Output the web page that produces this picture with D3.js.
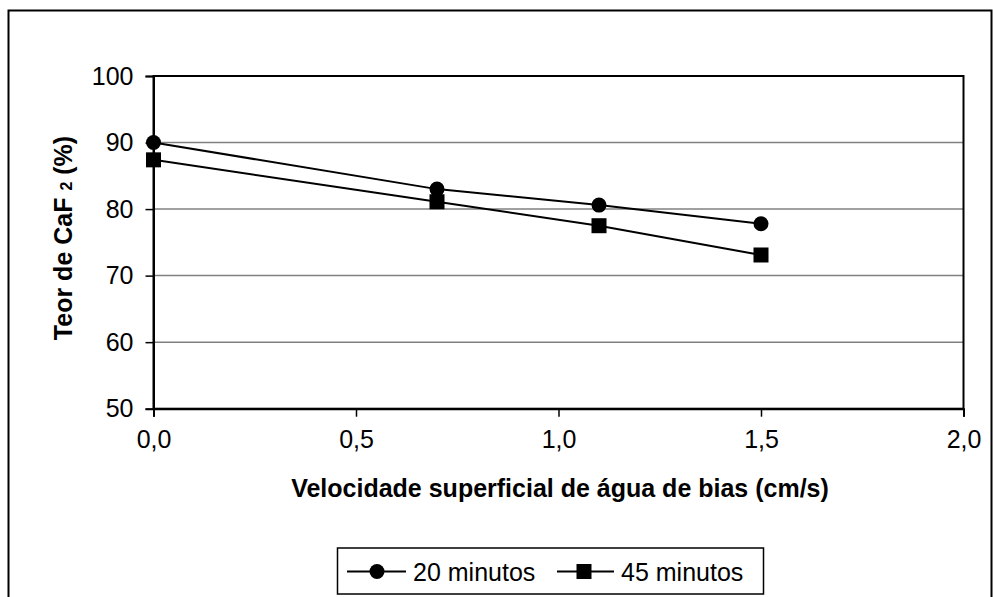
<!DOCTYPE html>
<html>
<head>
<meta charset="utf-8">
<script src="https://cdn.jsdelivr.net/npm/d3@7"></script>
<style>
  html, body { margin: 0; padding: 0; background: #fff; }
  svg { display: block; font-family: "Liberation Sans", Arial, sans-serif; }
</style>
</head>
<body>
<svg id="chart" width="993" height="597"></svg>
<script>
const xValues = [0.0, 0.7, 1.1, 1.5];
const series20 = [90.0, 83.0, 80.6, 77.8];
const series45 = [87.4, 81.1, 77.5, 73.1];
const seriesNames = ["20 minutos", "45 minutos"];
const xTicks = [0, 0.5, 1.0, 1.5, 2.0];
const yTicks = [50, 60, 70, 80, 90, 100];
const xTitle = "Velocidade superficial de água de bias (cm/s)";

const svg = d3.select("#chart");
const plot = { left: 153.5, right: 963.5, top: 76, bottom: 408.7 };

// outer frame
svg.append("rect")
  .attr("x", 8.5).attr("y", 10.5)
  .attr("width", 983).attr("height", 600)
  .attr("fill", "none").attr("stroke", "#000").attr("stroke-width", 2);

const x = d3.scaleLinear().domain([0, 2]).range([plot.left, plot.right]);
const y = d3.scaleLinear().domain([50, 100]).range([plot.bottom, plot.top]);

// gridlines
svg.append("g").selectAll("line")
  .data(yTicks.filter(d => d > 50 && d < 100))
  .join("line")
  .attr("x1", plot.left).attr("x2", plot.right)
  .attr("y1", d => y(d)).attr("y2", d => y(d))
  .attr("stroke", "#808080").attr("stroke-width", 1.5);

// plot border
svg.append("rect")
  .attr("x", plot.left).attr("y", plot.top)
  .attr("width", plot.right - plot.left).attr("height", plot.bottom - plot.top)
  .attr("fill", "none").attr("stroke", "#000").attr("stroke-width", 2);

// y axis
const yAxis = d3.axisLeft(y).tickValues(yTicks).tickSize(8).tickPadding(12)
  .tickFormat(d3.format("d"));
const gy = svg.append("g").attr("transform", `translate(${plot.left},0)`).call(yAxis);
gy.select(".domain").attr("stroke", "#000").attr("stroke-width", 2);
gy.selectAll(".tick line").attr("stroke", "#000").attr("stroke-width", 1.5);
gy.selectAll(".tick text").attr("font-size", 25).attr("fill", "#000")
  .attr("font-family", "Liberation Sans, Arial, sans-serif");

// x axis
const xAxis = d3.axisBottom(x).tickValues(xTicks).tickSize(8).tickPadding(14)
  .tickFormat(d => d3.format(".1f")(d).replace(".", ","));
const gx = svg.append("g").attr("transform", `translate(0,${plot.bottom})`).call(xAxis);
gx.select(".domain").attr("stroke", "#000").attr("stroke-width", 2);
gx.selectAll(".tick line").attr("stroke", "#000").attr("stroke-width", 1.5);
gx.selectAll(".tick text").attr("font-size", 25).attr("fill", "#000")
  .attr("font-family", "Liberation Sans, Arial, sans-serif");

// lines
const line = d3.line().x((d, i) => x(xValues[i])).y(d => y(d));
[series20, series45].forEach(s => {
  svg.append("path").datum(s).attr("d", line)
    .attr("fill", "none").attr("stroke", "#000").attr("stroke-width", 2);
});

// markers
svg.append("g").selectAll("circle").data(series20).join("circle")
  .attr("cx", (d, i) => x(xValues[i])).attr("cy", d => y(d))
  .attr("r", 7.5).attr("fill", "#000");
svg.append("g").selectAll("rect").data(series45).join("rect")
  .attr("x", (d, i) => x(xValues[i]) - 7.5).attr("y", d => y(d) - 7.5)
  .attr("width", 15).attr("height", 15).attr("fill", "#000");

// axis titles
svg.append("text")
  .attr("x", 560).attr("y", 497)
  .attr("text-anchor", "middle").attr("font-size", 25).attr("font-weight", "bold")
  .text(xTitle);

const yt = svg.append("text")
  .attr("transform", `translate(72,238) rotate(-90)`)
  .attr("text-anchor", "middle").attr("font-size", 25).attr("font-weight", "bold");
yt.append("tspan").text("Teor de CaF ");
yt.append("tspan").attr("font-size", 16).text("2");
yt.append("tspan").text(" (%)");

// legend
const lg = svg.append("g");
lg.append("rect").attr("x", 337.5).attr("y", 548).attr("width", 426).attr("height", 46)
  .attr("fill", "#fff").attr("stroke", "#000").attr("stroke-width", 1.5);
const ly = 571.5;
const entries = [
  { name: seriesNames[0], x1: 347, x2: 406, mx: 377, shape: "circle", tx: 413 },
  { name: seriesNames[1], x1: 557, x2: 614, mx: 584, shape: "square", tx: 621 }
];
entries.forEach(e => {
  lg.append("line").attr("x1", e.x1).attr("x2", e.x2).attr("y1", ly).attr("y2", ly)
    .attr("stroke", "#000").attr("stroke-width", 2);
  if (e.shape === "circle") {
    lg.append("circle").attr("cx", e.mx).attr("cy", ly).attr("r", 7.5).attr("fill", "#000");
  } else {
    lg.append("rect").attr("x", e.mx - 7.5).attr("y", ly - 7.5).attr("width", 15).attr("height", 15).attr("fill", "#000");
  }
  lg.append("text").attr("x", e.tx).attr("y", ly + 9).attr("font-size", 25).text(e.name);
});
</script>
</body>
</html>
